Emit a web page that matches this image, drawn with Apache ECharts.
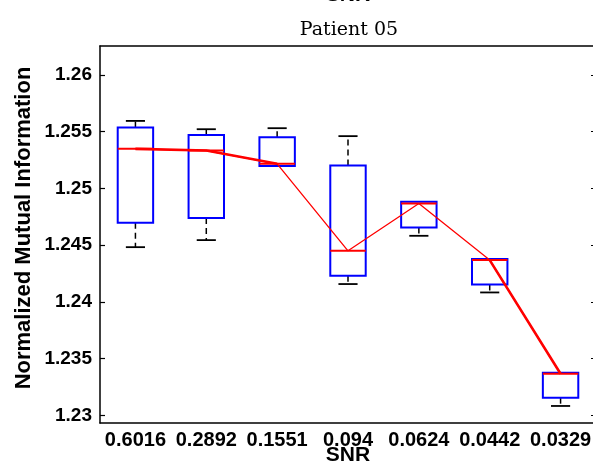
<!DOCTYPE html>
<html>
<head>
<meta charset="utf-8">
<script src="https://cdn.jsdelivr.net/npm/echarts@6/dist/echarts.min.js"></script>
<style>
  html, body { margin: 0; padding: 0; background: #fff; }
  #chart { width: 593px; height: 463px; }
</style>
</head>
<body>
<div id="chart"></div>
<script>
// SNR levels on the x axis
const categories = ['0.6016', '0.2892', '0.1551', '0.094', '0.0624', '0.0442', '0.0329'];
// Box statistics of the normalized mutual information per SNR level
const lowWhisker  = [1.24482, 1.24544, 1.25198, 1.24157, 1.24582, 1.24083, 1.23083];
const q1          = [1.24696, 1.24738, 1.25198, 1.24230, 1.24655, 1.24153, 1.23156];
const median      = [1.25348, 1.25333, 1.25216, 1.24450, 1.24866, 1.24368, 1.23367];
const q3          = [1.25535, 1.25471, 1.25451, 1.25201, 1.24881, 1.24377, 1.23376];
const highWhisker = [1.25594, 1.25521, 1.25530, 1.25460, 1.24881, 1.24377, 1.23376];
// Segments of the median trace drawn with the heavier stroke
const heavyTrace  = [true, true, true, false, false, true, true];
// Y tick values
const yTicks = [1.23, 1.235, 1.24, 1.245, 1.25, 1.255, 1.26];
const yMin = 1.22933, yMax = 1.26254;

const boxData = categories.map((c, i) => [i, lowWhisker[i], q1[i], median[i], q3[i], highWhisker[i]]);

const chart = echarts.init(document.getElementById('chart'), null, { renderer: 'canvas' });

const tickFont = { fontFamily: '"Liberation Sans", Arial, sans-serif', fontWeight: 'bold', color: '#000' };

function renderBox(params, api) {
  const idx = api.value(0);
  const band = api.size([1, 0])[0];
  const halfBox = band * 0.25;
  const halfCap = band * 0.135;
  const pLow = api.coord([idx, api.value(1)]);
  const pQ1 = api.coord([idx, api.value(2)]);
  const pMed = api.coord([idx, api.value(3)]);
  const pQ3 = api.coord([idx, api.value(4)]);
  const pHigh = api.coord([idx, api.value(5)]);
  const x = pMed[0];
  const whisker = { stroke: '#000', lineWidth: 1.5, lineDash: [6, 4] };
  const cap = { stroke: '#000', lineWidth: 1.8 };
  const children = [];
  if (pHigh[1] < pQ3[1] - 0.5) {
    children.push({ type: 'line', shape: { x1: x, y1: pQ3[1], x2: x, y2: pHigh[1] }, style: whisker });
    children.push({ type: 'line', shape: { x1: x - halfCap, y1: pHigh[1], x2: x + halfCap, y2: pHigh[1] }, style: cap });
  }
  if (pLow[1] > pQ1[1] + 0.5) {
    children.push({ type: 'line', shape: { x1: x, y1: pQ1[1], x2: x, y2: pLow[1] }, style: whisker });
    children.push({ type: 'line', shape: { x1: x - halfCap, y1: pLow[1], x2: x + halfCap, y2: pLow[1] }, style: cap });
  }
  children.push({
    type: 'rect',
    shape: { x: x - halfBox, y: pQ3[1], width: halfBox * 2, height: pQ1[1] - pQ3[1] },
    style: { fill: 'none', stroke: '#0000ff', lineWidth: 2 }
  });
  children.push({
    type: 'line',
    shape: { x1: x - halfBox, y1: pMed[1], x2: x + halfBox, y2: pMed[1] },
    style: { stroke: '#ff0000', lineWidth: 2 }
  });
  return { type: 'group', children: children };
}

const option = {
  backgroundColor: '#fff',
  animation: false,
  grid: { left: 100, top: 46, width: 496, height: 377, containLabel: false, outerBoundsMode: 'none' },
  xAxis: [
    {
      type: 'category',
      data: categories,
      boundaryGap: true,
      position: 'bottom',
      axisLine: { lineStyle: { color: '#000', width: 1.5 } },
      axisTick: { inside: true, alignWithLabel: true, length: 5, lineStyle: { color: '#000', width: 1.2 } },
      axisLabel: Object.assign({ fontSize: 20, margin: 7, interval: 0, hideOverlap: false }, tickFont),
      splitLine: { show: false },
      name: 'SNR',
      nameLocation: 'middle',
      nameGap: 22,
      nameMoveOverlap: false,
      nameTextStyle: { fontFamily: '"Liberation Sans", Arial, sans-serif', fontWeight: 'bold', fontSize: 21, color: '#000' }
    },
    {
      type: 'category',
      data: categories,
      boundaryGap: true,
      position: 'top',
      axisLine: { lineStyle: { color: '#000', width: 1.5 } },
      axisTick: { inside: true, alignWithLabel: true, length: 5, lineStyle: { color: '#000', width: 1.2 } },
      axisLabel: { show: false },
      splitLine: { show: false }
    }
  ],
  yAxis: [
    {
      type: 'value',
      min: yMin,
      max: yMax,
      position: 'left',
      axisLine: { show: true, lineStyle: { color: '#000', width: 1.5 } },
      axisTick: { show: true, inside: true, length: 5, customValues: yTicks, lineStyle: { color: '#000', width: 1.2 } },
      axisLabel: Object.assign({
        fontSize: 19, margin: 8, customValues: yTicks,
        formatter: v => String(+(+v).toFixed(3))
      }, tickFont),
      splitLine: { show: false }
    },
    {
      type: 'value',
      min: yMin,
      max: yMax,
      position: 'right',
      axisLine: { show: true, lineStyle: { color: '#000', width: 1.5 } },
      axisTick: { show: true, inside: true, length: 5, customValues: yTicks, lineStyle: { color: '#000', width: 1.2 } },
      axisLabel: { show: false },
      splitLine: { show: false }
    }
  ],
  graphic: [
    {
      type: 'text',
      x: 349, y: 30,
      style: { text: 'Patient 05', font: '19px "DejaVu Serif", serif', fill: '#000', align: 'center', verticalAlign: 'middle' }
    },
    {
      type: 'text',
      x: 348, y: -15,
      style: { text: 'SNR', font: 'bold 21px "Liberation Sans", Arial, sans-serif', fill: '#000', align: 'center', verticalAlign: 'top' }
    },
    {
      type: 'text',
      x: 23.5, y: 228,
      rotation: Math.PI / 2,
      style: { text: 'Normalized Mutual Information', font: 'bold 22px "Liberation Sans", Arial, sans-serif', fill: '#000', align: 'center', verticalAlign: 'middle' }
    }
  ],
  series: [
    {
      type: 'custom',
      xAxisIndex: 0,
      yAxisIndex: 0,
      renderItem: renderBox,
      data: boxData,
      encode: { x: 0, y: [1, 2, 3, 4, 5] },
      z: 2
    },
    {
      type: 'line',
      xAxisIndex: 0,
      yAxisIndex: 0,
      data: median,
      symbol: 'none',
      lineStyle: { color: '#ff0000', width: 1.3 },
      z: 3
    },
    {
      type: 'line',
      xAxisIndex: 0,
      yAxisIndex: 0,
      data: median.map((v, i) => heavyTrace[i] ? v : null),
      connectNulls: false,
      symbol: 'none',
      lineStyle: { color: '#ff0000', width: 2.6 },
      z: 4
    }
  ]
};

chart.setOption(option);
</script>
</body>
</html>
